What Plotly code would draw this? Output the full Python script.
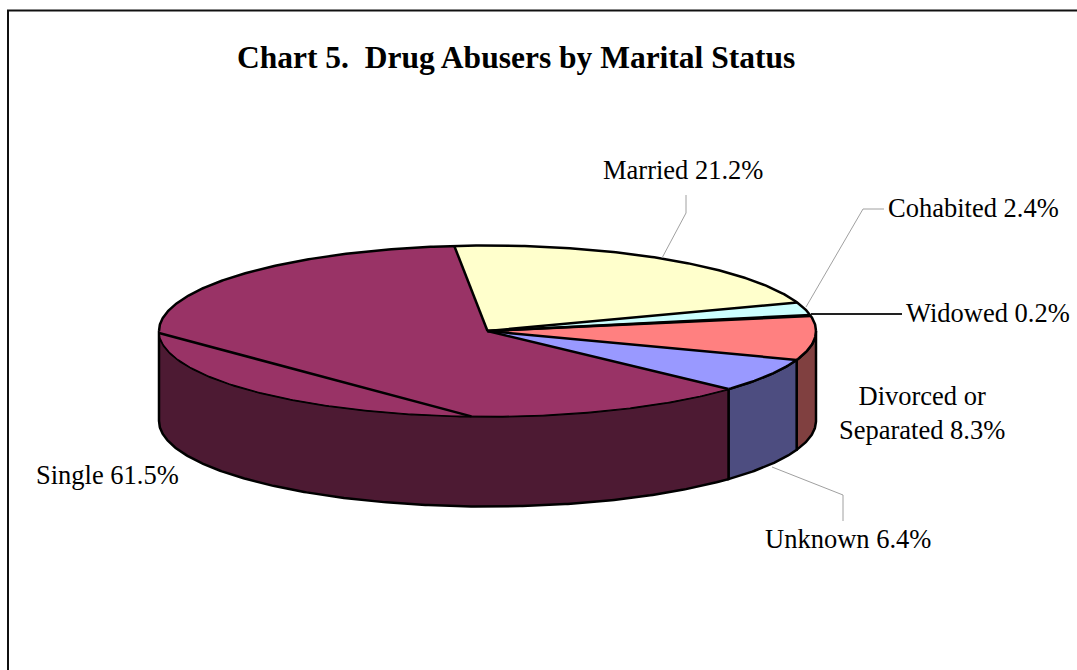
import numpy as np
import plotly.graph_objects as go

categories = ["Married", "Cohabited", "Widowed", "Divorced or<br>Separated", "Unknown", "Single"]
values = [21.2, 2.4, 0.2, 8.3, 6.4, 61.5]
title_text = "Chart 5.\u00a0\u00a0Drug Abusers by Marital Status"

top_colors = ["#ffffcc", "#ccffff", "#ffffff", "#ff8080", "#9999ff", "#993366"]
side_colors = ["#808066", "#668080", "#808080", "#804040", "#4d4d80", "#4d1a33"]

# pie geometry, in pixel-like axis units
CX, CY, RX, RY, DEPTH = 487.5, 331.0, 328.5, 85.5, 90.0
START = -5.8
SERIF = "Liberation Serif"
FS = 26.5
HEAVY = 2.5


def rim(t0, t1, drop=0.0):
    t = np.radians(np.linspace(t0, t1, max(2, int(abs(t1 - t0) * 2) + 1)))
    return CX + RX * np.sin(t), CY - RY * np.cos(t) + drop


def line(fig, x, y, width=2.0, color="#000000", dash="solid"):
    fig.add_trace(go.Scatter(x=list(x), y=list(y), mode="lines", hoverinfo="skip",
                             line=dict(color=color, width=width, dash=dash)))


edges = START + np.concatenate([[0], np.cumsum(values)]) * 3.6
fig = go.Figure()

# side wall: only the front half of the disc is visible
for i, c in enumerate(side_colors):
    a, b = max(edges[i], 90.0), min(edges[i + 1], 270.0)
    if b <= a:
        continue
    xt, yt = rim(a, b)
    xb, yb = rim(b, a, DEPTH)
    fig.add_trace(go.Scatter(x=np.r_[xt, xb, xt[0]], y=np.r_[yt, yb, yt[0]], mode="lines",
                             fill="toself", fillcolor=c, hoverinfo="skip",
                             line=dict(color="#000000", width=HEAVY)))

# top face
for i, c in enumerate(top_colors):
    xs, ys = rim(edges[i], edges[i + 1])
    fig.add_trace(go.Scatter(x=np.r_[CX, xs, CX], y=np.r_[CY, ys, CY], mode="lines",
                             fill="toself", fillcolor=c, hoverinfo="skip",
                             line=dict(color="#000000", width=0)))

# slice borders
for e in edges[:-1]:
    xs, ys = rim(e, e)
    line(fig, [CX, xs[0]], [CY, ys[0]], HEAVY)

# rim: heavy on the back, fine over the front wall
xs, ys = rim(270, 360 + 90)
line(fig, xs, ys, HEAVY)
xs, ys = rim(90, 132.7)
line(fig, xs, ys, HEAVY)
xs, ys = rim(132.7, 270)
line(fig, xs, ys, 1.2)

# the chord across the Single slice
xa, ya = rim(270, 270)
xc, yc = rim(182.8, 182.8)
line(fig, [xa[0], xc[0]], [ya[0] + 2, yc[0]], HEAVY)

# leader lines
GREY = "#a0a0a0"
line(fig, [686, 686, 662], [195, 213, 258], 1, GREY)
line(fig, [884, 863, 806], [209, 209, 307], 1, GREY)
line(fig, [772, 843, 843], [467, 495, 521], 1, GREY)
line(fig, [811, 902], [314, 314], 2, "#222222")

# labels
label_pos = [(683, 170), (973, 208), (988, 313), (922, 413), (848, 539), (107.5, 475)]
for cat, v, (x, y) in zip(categories, values, label_pos):
    fig.add_annotation(x=x, y=y, text=f"{cat} {v}%", showarrow=False, xanchor="center",
                       yanchor="middle", font=dict(family=SERIF, size=FS, color="#000000"))

fig.add_annotation(x=515.5, y=57, text=f"<b>{title_text}</b>", showarrow=False, xanchor="center",
                   yanchor="middle", font=dict(family=SERIF, size=31.5, color="#000000"))

# outer frame, cropped by the window on the right and at the bottom
line(fig, [8, 8, 1077], [670, 10.5, 10.5], 2, "#101010")

fig.update_layout(
    width=1077, height=670, margin=dict(l=0, r=0, t=0, b=0),
    showlegend=False, paper_bgcolor="#ffffff", plot_bgcolor="#ffffff",
    xaxis=dict(range=[0, 1077], visible=False, fixedrange=True),
    yaxis=dict(range=[670, 0], visible=False, fixedrange=True),
)
fig.write_html("out.html", config={"displayModeBar": False},
               post_script="document.body.style.margin='0';document.body.style.overflow='hidden';")
